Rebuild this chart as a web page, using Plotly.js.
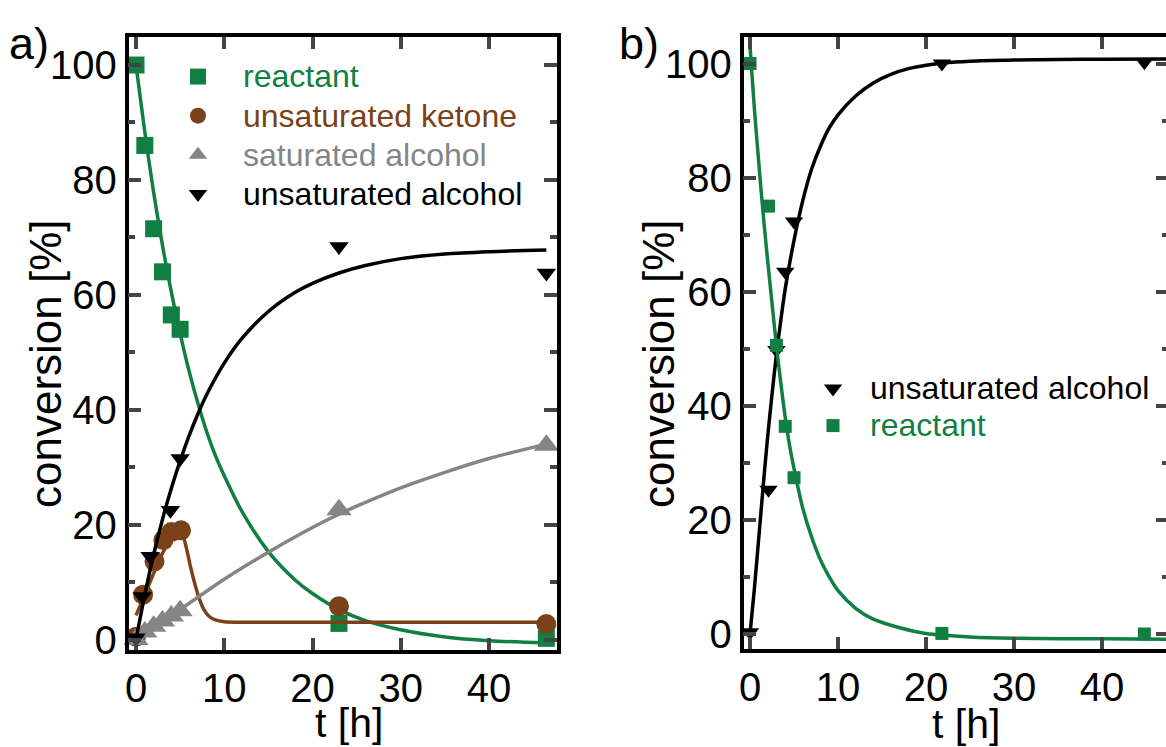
<!DOCTYPE html>
<html><head><meta charset="utf-8">
<script src="https://cdn.plot.ly/plotly-3.0.1.min.js"></script>
<style>html,body{margin:0;padding:0;overflow:hidden;background:#fff}#chart{width:1175px;height:747px}</style>
</head><body><div id="chart"></div>
<script>
// ---------- Panel a: measured points ----------
const tReactA   = [0, 1, 2, 3, 4, 5, 23, 46.5];
const reactA    = [100, 86, 71.5, 64, 56.5, 54, 2.8, 0.2];
const tKetone   = [0, 0.8, 2.1, 3.1, 4.0, 5.1, 23, 46.5];
const ketone    = [0.5, 7.8, 13.6, 17.3, 18.7, 19, 5.8, 2.7];
const tSatAlc   = [0, 1, 2, 3, 4, 5, 23, 46.5];
const satAlc    = [0, 1.3, 2.3, 3.2, 4.1, 5.0, 22.6, 33.8];
const tUnsatA   = [0, 0.7, 1.6, 3.9, 5.0, 23, 46.5];
const unsatA    = [0.3, 7.5, 14.5, 22.5, 31.5, 68.4, 63.8];
// ---------- Panel a: fitted curves ----------
const fitReactAx = [0,1,2,3,4,5,6,7,8,9,10,12,15,18,20,23,26,30,35,40,46.5];
const fitReactAy = [100,88.3,77.8,68.6,60.5,53.3,46.8,41.2,36.2,32,28.5,22.3,15.3,10.4,8,5.2,3.3,1.7,0.45,-0.2,-0.6];
const fitKetX = [0,1,2,3,4,4.6,5.2,5.7,6.2,6.7,7.2,7.7,8.3,9,10,12,20,30,46.5];
const fitKetY = [4.2,7.8,11.5,15,17.8,18.7,18.5,16,12.5,9.5,7,5.2,4,3.4,3.1,3,3,3,3];
const fitSatX = [0,2,5,10,15,20,23,25,30,35,40,46.5];
const fitSatY = [0,2,5.2,10.5,15.2,19.5,21.8,23.2,26.4,29.1,31.5,34];
const fitUnsAX = [0,1,2,3,4,5,6,7,8,10,12,15,18,20,23,26,30,35,40,46.5];
const fitUnsAY = [0,7.8,14.8,20.9,26.3,31.1,35.4,39.2,42.6,48.1,52.4,57.1,60.4,62,63.8,65.1,66.3,67.1,67.5,67.8];
// ---------- Panel b: measured points ----------
const tB       = [0, 2.1, 3.0, 4.0, 5.0, 21.8, 44.8];
const unsatB   = [0.3, 25.3, 49.8, 63.5, 72.3, 100, 100.2];
const reactB   = [100, 75, 50.6, 36.4, 27.4, 0.1, 0];
// ---------- Panel b: fitted curves ----------
const fitUnsBX = [0,0.5,1,1.5,2,2.5,3,3.5,4,5,6,7,8,9,10,12,14,16,18,20,22,25,30,35,40,47.5];
const fitUnsBY = [0,8,17,26,34.5,42,49,55,60.5,69,76,81.5,85.5,88.7,91,94.3,96.6,98.1,99.1,99.7,100.1,100.4,100.6,100.7,100.75,100.8];
const fitReactBX = [0,0.5,1,1.5,2,2.5,3,3.5,4,4.5,5,6,7,8,9,10,12,14,17,20,25,30,40,47.5];
const fitReactBY = [103,92,82.5,73.5,65.5,58,50.5,44,38,33,29,22,17,13,10,7.6,4.5,2.6,1.1,0.1,-0.5,-0.75,-0.85,-0.9];

const GREEN = '#117f41', BROWN = '#7b4119', GREY = '#858585', BLACK = '#000000';
const FONT = 'Liberation Sans, Arial, sans-serif';
const W = 1175, H = 747;
const fx = p => p / W, fy = p => 1 - p / H;
const LW = 3.5;

function nm(txt, col) { return '<span style="font-size:32px;color:' + col + '">' + txt + '</span>'; }

const traces = [
  // panel a
  {x: fitReactAx, y: fitReactAy, mode: 'lines', line: {color: GREEN, width: LW, shape: 'spline', smoothing: 0.8}, showlegend: false, xaxis: 'x', yaxis: 'y'},
  {x: tReactA, y: reactA, mode: 'markers', name: nm('reactant', GREEN), marker: {symbol: 'square', size: 17, color: GREEN}, cliponaxis: false, xaxis: 'x', yaxis: 'y', legend: 'legend'},
  {x: fitKetX, y: fitKetY, mode: 'lines', line: {color: BROWN, width: LW, shape: 'spline', smoothing: 0.7}, showlegend: false, xaxis: 'x', yaxis: 'y'},
  {x: tKetone, y: ketone, mode: 'markers', name: nm('unsaturated ketone', BROWN), marker: {symbol: 'circle', size: 20, color: BROWN}, cliponaxis: false, xaxis: 'x', yaxis: 'y', legend: 'legend'},
  {x: fitSatX, y: fitSatY, mode: 'lines', line: {color: GREY, width: LW, shape: 'spline', smoothing: 0.8}, showlegend: false, xaxis: 'x', yaxis: 'y'},
  {x: tSatAlc, y: satAlc, mode: 'markers', name: nm('saturated alcohol', GREY), marker: {symbol: 'triangle-up', size: 22, color: GREY}, cliponaxis: false, xaxis: 'x', yaxis: 'y', legend: 'legend'},
  {x: fitUnsAX, y: fitUnsAY, mode: 'lines', line: {color: BLACK, width: LW, shape: 'spline', smoothing: 0.8}, showlegend: false, xaxis: 'x', yaxis: 'y'},
  {x: tUnsatA, y: unsatA, mode: 'markers', name: nm('unsaturated alcohol', BLACK), marker: {symbol: 'triangle-down', size: 17, color: BLACK}, cliponaxis: false, xaxis: 'x', yaxis: 'y', legend: 'legend'},
  // panel b
  {x: fitUnsBX, y: fitUnsBY, mode: 'lines', line: {color: BLACK, width: LW, shape: 'spline', smoothing: 0.8}, showlegend: false, xaxis: 'x2', yaxis: 'y2'},
  {x: tB, y: unsatB, mode: 'markers', name: nm('unsaturated alcohol', BLACK), marker: {symbol: 'triangle-down', size: 16, color: BLACK}, cliponaxis: false, xaxis: 'x2', yaxis: 'y2', legend: 'legend2'},
  {x: fitReactBX, y: fitReactBY, mode: 'lines', line: {color: GREEN, width: LW, shape: 'spline', smoothing: 0.8}, showlegend: false, xaxis: 'x2', yaxis: 'y2'},
  {x: tB, y: reactB, mode: 'markers', name: nm('reactant', GREEN), marker: {symbol: 'square', size: 13, color: GREEN}, cliponaxis: false, xaxis: 'x2', yaxis: 'y2', legend: 'legend2'}
];

const tickFont = {family: FONT, size: 40, color: '#000'};
function xAx(domain, range) {
  return {domain: domain, range: range, dtick: 10, tick0: 0, ticks: 'inside', ticklen: 12, tickwidth: LW,
    showline: true, linewidth: LW, linecolor: '#000', mirror: 'ticks', showgrid: false, zeroline: false,
    tickfont: tickFont, fixedrange: true};
}
function yAx(domain, range, anchor) {
  return {domain: domain, range: range, dtick: 20, tick0: 0, ticks: 'inside', ticklen: 13, tickwidth: LW,
    minor: {dtick: 10, tick0: 0, ticks: 'inside', ticklen: 7, tickwidth: LW, showgrid: false},
    showline: true, linewidth: LW, linecolor: '#000', mirror: 'ticks', showgrid: false, zeroline: false,
    tickfont: tickFont, anchor: anchor, fixedrange: true};
}

const layout = {
  width: W, height: H, margin: {l: 0, r: 0, t: 0, b: 0}, paper_bgcolor: '#fff', plot_bgcolor: '#fff',
  font: {family: FONT, color: '#000'},
  xaxis: Object.assign(xAx([fx(128.5), fx(556.5)], [-0.85, 47.65]), {anchor: 'y'}),
  yaxis: yAx([fy(649.9), fy(36.8)], [-1.81, 104.91], 'x'),
  xaxis2: Object.assign(xAx([fx(743.5), fx(1169)], [-0.74, 47.6]), {anchor: 'y2'}),
  yaxis2: yAx([fy(649.2), fy(36.8)], [-2.66, 104.68], 'x2'),
  legend: {x: fx(153), y: fy(52), xanchor: 'left', yanchor: 'top', bgcolor: 'rgba(0,0,0,0)', borderwidth: 0,
    font: {family: FONT, size: 27.8}, itemwidth: 80, traceorder: 'normal'},
  legend2: {x: fx(796), y: fy(365), xanchor: 'left', yanchor: 'top', bgcolor: 'rgba(0,0,0,0)', borderwidth: 0,
    font: {family: FONT, size: 26.2}, itemwidth: 64, traceorder: 'normal'},
  annotations: [
    {text: 'a)', x: fx(7), y: fy(44), xref: 'paper', yref: 'paper', xanchor: 'left', yanchor: 'middle', showarrow: false, font: {family: FONT, size: 45}},
    {text: 'b)', x: fx(617), y: fy(44), xref: 'paper', yref: 'paper', xanchor: 'left', yanchor: 'middle', showarrow: false, font: {family: FONT, size: 45}},
    {text: 'conversion [%]', textangle: -90, x: fx(45), y: fy(364), xref: 'paper', yref: 'paper', xanchor: 'center', yanchor: 'middle', showarrow: false, font: {family: FONT, size: 44}},
    {text: 'conversion [%]', textangle: -90, x: fx(658), y: fy(364), xref: 'paper', yref: 'paper', xanchor: 'center', yanchor: 'middle', showarrow: false, font: {family: FONT, size: 44}},
    {text: 't [h]', x: fx(349), y: fy(723), xref: 'paper', yref: 'paper', xanchor: 'center', yanchor: 'middle', showarrow: false, font: {family: FONT, size: 41}},
    {text: 't [h]', x: fx(966), y: fy(724), xref: 'paper', yref: 'paper', xanchor: 'center', yanchor: 'middle', showarrow: false, font: {family: FONT, size: 41}}
  ]
};

Plotly.newPlot('chart', traces, layout, {displayModeBar: false, responsive: false});
</script></body></html>
